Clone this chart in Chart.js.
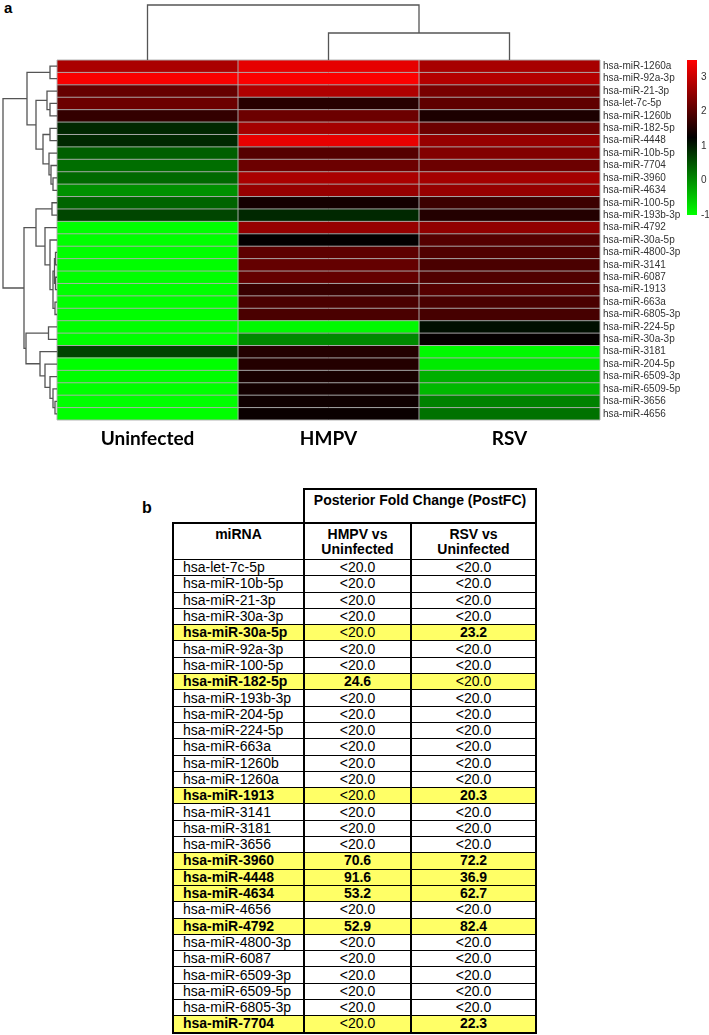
<!DOCTYPE html>
<html>
<head>
<meta charset="utf-8">
<script src="https://cdn.jsdelivr.net/npm/chart.js@4.4.1/dist/chart.umd.min.js"></script>
<style>
  body { margin: 0; background: #fff; width: 709px; height: 1035px; position: relative; overflow: hidden; }
  #heat { position: absolute; left: 0; top: 0; }
  #bar { position: absolute; left: 680px; top: 50px; }
  .panel { position: absolute; font-family: 'Liberation Sans', Arial, sans-serif; font-weight: bold; color: #000; }
  #fc { position: absolute; left: 172px; top: 488px; border-collapse: collapse; table-layout: fixed;
        font-family: 'Liberation Sans', Arial, sans-serif; font-size: 14px; color: #000; }
  #fc td { border: 1px solid #000; border-left-width: 2px; border-right-width: 2px; padding: 0;
           height: 15.3px; line-height: 15px; text-align: center; white-space: nowrap; }
  #fc td.name { text-align: left; padding-left: 9px; }
  #fc td.blank { border: none; }
  #fc td.pfc { border-width: 2px; height: 29px; vertical-align: top; font-weight: bold; padding-top: 3px; }
  #fc tr.hdr td { border-top-width: 2px; height: 32px; vertical-align: top; font-weight: bold; padding-top: 3px; text-align: center; }
  #fc tr.hi td { background: #ffff66; }
  #fc tr.hi td.name, #fc td.big { font-weight: bold; }
  #fc tr:last-child td { border-bottom-width: 2px; }
</style>
</head>
<body>
<div class="panel" style="left:4px;top:-1px;font-size:15px;">a</div>
<div class="panel" style="left:142px;top:499px;font-size:16px;">b</div>
<canvas id="heat" width="700" height="460"></canvas>
<canvas id="bar" width="29" height="175"></canvas>
<table id="fc">
  <colgroup><col style="width:131px"><col style="width:107px"><col style="width:125px"></colgroup>
  <tbody id="fcBody">
    <tr><td class="blank"></td><td class="pfc" colspan="2">Posterior Fold Change (PostFC)</td></tr>
    <tr class="hdr"><td>miRNA</td><td>HMPV vs<br>Uninfected</td><td>RSV vs<br>Uninfected</td></tr>
  </tbody>
</table>
<script>
// heatmap rows (top to bottom) and columns
const mirnas = ['hsa-miR-1260a', 'hsa-miR-92a-3p', 'hsa-miR-21-3p', 'hsa-let-7c-5p', 'hsa-miR-1260b',
  'hsa-miR-182-5p', 'hsa-miR-4448', 'hsa-miR-10b-5p', 'hsa-miR-7704', 'hsa-miR-3960', 'hsa-miR-4634',
  'hsa-miR-100-5p', 'hsa-miR-193b-3p', 'hsa-miR-4792', 'hsa-miR-30a-5p', 'hsa-miR-4800-3p', 'hsa-miR-3141',
  'hsa-miR-6087', 'hsa-miR-1913', 'hsa-miR-663a', 'hsa-miR-6805-3p', 'hsa-miR-224-5p', 'hsa-miR-30a-3p',
  'hsa-miR-3181', 'hsa-miR-204-5p', 'hsa-miR-6509-3p', 'hsa-miR-6509-5p', 'hsa-miR-3656', 'hsa-miR-4656'];
const groups = ['Uninfected', 'HMPV', 'RSV'];

// log expression
const uninfected = [2.75, 3.45, 2.15, 2.2, 1.7, 0.9, 0.9, 0.41, 0.28, 0.32, -0.03, 0.37, 0.63, -1, -1,
  -1, -1, -1, -1, -1, -1, -1, -1, 0.66, -1, -1, -1, -1, -1];
const hmpv = [3.28, 3.47, 2.79, 1.6, 2.2, 2.7, 3.3, 2.0, 2.2, 2.75, 2.57, 1.43, 0.9, 2.57, 1.28,
  2.07, 2.13, 2.13, 1.74, 1.9, 1.9, -0.95, 0.05, 1.56, 1.56, 1.47, 1.43, 1.38, 1.34];
const rsv = [2.72, 2.84, 2.31, 2.09, 1.5, 2.2, 2.57, 2.4, 2.2, 2.7, 2.57, 1.78, 1.56, 2.53, 2.0,
  1.96, 1.9, 1.96, 2.0, 1.9, 1.87, 1.12, 1.29, -0.95, -0.82, -0.29, -0.38, 0.1, 0.24];

// colour scale
const scaleMin = -1, scaleMax = 3.5;
const scaleTicks = [-1, 0, 1, 2, 3];

// dendrograms: [left, right, height], leaves are row/column indexes
const rowTree = [
  [[0, 1, 7], [[2, [3, 4, 7], 10], [[5, 6, 7], [7, [8, [9, 10, 4], 6], 8], 14], 21], 30],
  [[[11, 12, 5], [13, [14, [[[15, 16, 1.5], [17, 18, 1.5], 2.5], [19, 20, 2], 4], 7], 12], 21],
   [[21, 22, 8.5], [23, [24, [25, [26, [27, 28, 2], 4], 7], 12], 17], 31], 33],
  54];
const colTree = [0, [1, 2, 27], 55];

// table b
const tableMirna = ['hsa-let-7c-5p', 'hsa-miR-10b-5p', 'hsa-miR-21-3p', 'hsa-miR-30a-3p', 'hsa-miR-30a-5p',
  'hsa-miR-92a-3p', 'hsa-miR-100-5p', 'hsa-miR-182-5p', 'hsa-miR-193b-3p', 'hsa-miR-204-5p', 'hsa-miR-224-5p',
  'hsa-miR-663a', 'hsa-miR-1260b', 'hsa-miR-1260a', 'hsa-miR-1913', 'hsa-miR-3141', 'hsa-miR-3181',
  'hsa-miR-3656', 'hsa-miR-3960', 'hsa-miR-4448', 'hsa-miR-4634', 'hsa-miR-4656', 'hsa-miR-4792',
  'hsa-miR-4800-3p', 'hsa-miR-6087', 'hsa-miR-6509-3p', 'hsa-miR-6509-5p', 'hsa-miR-6805-3p', 'hsa-miR-7704'];
// null = "<20.0"
const hmpvFC = [null, null, null, null, null, null, null, 24.6, null, null, null, null, null, null, null,
  null, null, null, 70.6, 91.6, 53.2, null, 52.9, null, null, null, null, null, null];
const rsvFC = [null, null, null, null, 23.2, null, null, null, null, null, null, null, null, null, 20.3,
  null, null, null, 72.2, 36.9, 62.7, null, 82.4, null, null, null, null, null, 22.3];

function heatColor(v) {
  const mid = (scaleMin + scaleMax) / 2;
  const half = (scaleMax - scaleMin) / 2;
  v = Math.max(scaleMin, Math.min(scaleMax, v));
  if (v >= mid) return 'rgb(' + Math.round(255 * (v - mid) / half) + ',0,0)';
  return 'rgb(0,' + Math.round(255 * (mid - v) / half) + ',0)';
}

function drawTree(ctx, node, leafPos, base, k, rows) {
  if (typeof node === 'number') return { p: leafPos(node), h: 0 };
  const a = drawTree(ctx, node[0], leafPos, base, k, rows);
  const b = drawTree(ctx, node[1], leafPos, base, k, rows);
  const h = node[2];
  const at = hh => base - hh * k;
  ctx.beginPath();
  if (rows) {
    ctx.moveTo(at(a.h), a.p); ctx.lineTo(at(h), a.p); ctx.lineTo(at(h), b.p); ctx.lineTo(at(b.h), b.p);
  } else {
    ctx.moveTo(a.p, at(a.h)); ctx.lineTo(a.p, at(h)); ctx.lineTo(b.p, at(h)); ctx.lineTo(b.p, at(b.h));
  }
  ctx.stroke();
  return { p: (a.p + b.p) / 2, h: h };
}

const heatDecor = {
  id: 'heatDecor',
  afterDatasetsDraw(chart) {
    const ctx = chart.ctx, x = chart.scales.x, y = chart.scales.y, ca = chart.chartArea;
    const step = y.getPixelForValue(1) - y.getPixelForValue(0);
    ctx.save();
    ctx.strokeStyle = 'rgba(175,175,175,0.95)';
    ctx.lineWidth = 1;
    ctx.beginPath();
    for (let i = 0; i <= mirnas.length; i++) {
      const py = y.getPixelForValue(i) - step / 2;
      ctx.moveTo(ca.left, py); ctx.lineTo(ca.right, py);
    }
    for (let j = 0; j <= groups.length; j++) {
      const px = x.getPixelForValue(j);
      ctx.moveTo(px, ca.top); ctx.lineTo(px, ca.bottom);
    }
    ctx.stroke();
    ctx.restore();
  },
  afterDraw(chart) {
    const ctx = chart.ctx, x = chart.scales.x, y = chart.scales.y, ca = chart.chartArea;
    ctx.save();
    ctx.strokeStyle = '#555';
    ctx.lineWidth = 1.3;
    drawTree(ctx, rowTree, i => y.getPixelForValue(i), ca.left, (ca.left - 3) / rowTree[2], true);
    drawTree(ctx, colTree, j => x.getPixelForValue(j + 0.5), ca.top, (ca.top - 5) / colTree[2], false);
    ctx.restore();
  }
};

new Chart(document.getElementById('heat'), {
  type: 'bar',
  data: {
    labels: mirnas,
    datasets: [uninfected, hmpv, rsv].map((vals, j) => ({
      label: groups[j],
      data: vals.map(() => 1),
      backgroundColor: vals.map(heatColor),
      borderWidth: 0,
      barPercentage: 1,
      categoryPercentage: 1
    }))
  },
  options: {
    indexAxis: 'y',
    responsive: false,
    animation: false,
    layout: { padding: { left: 57, top: 60, right: 0, bottom: 0 } },
    scales: {
      x: {
        stacked: true, min: 0, max: groups.length,
        grid: { display: false, drawTicks: false }, border: { display: false },
        afterFit: s => { s.height = 40; },
        ticks: {
          stepSize: 0.5, autoSkip: false, maxRotation: 0, padding: 7, color: '#000',
          font: { family: "Lato, sans-serif", size: 19, weight: 'bold' },
          callback: v => (v % 1 === 0.5 ? groups[v - 0.5] : '')
        }
      },
      y: {
        stacked: true, position: 'right',
        grid: { display: false, drawTicks: false }, border: { display: false },
        afterFit: s => { s.width = 100; },
        ticks: {
          autoSkip: false, padding: 3, color: '#333',
          font: { family: "'Liberation Sans', Arial, sans-serif", size: 10 }
        }
      }
    },
    plugins: { legend: { display: false }, tooltip: { enabled: false } }
  },
  plugins: [heatDecor]
});

new Chart(document.getElementById('bar'), {
  type: 'bar',
  data: {
    labels: [''],
    datasets: [{
      data: [[scaleMin, scaleMax]],
      barPercentage: 1, categoryPercentage: 1, borderWidth: 0,
      backgroundColor: c => {
        const chart = c.chart, y = chart.scales.y;
        if (!chart.chartArea || !y) return '#000';
        const g = chart.ctx.createLinearGradient(0, y.getPixelForValue(scaleMin), 0, y.getPixelForValue(scaleMax));
        for (let s = 0; s <= 10; s++) {
          g.addColorStop(s / 10, heatColor(scaleMin + (scaleMax - scaleMin) * s / 10));
        }
        return g;
      }
    }]
  },
  options: {
    responsive: false,
    animation: false,
    layout: { padding: { left: 7, top: 10, bottom: 10, right: 0 } },
    scales: {
      x: { display: false },
      y: {
        position: 'right', min: scaleMin, max: scaleMax,
        grid: { display: false, drawTicks: false }, border: { display: false },
        afterBuildTicks: s => { s.ticks = scaleTicks.map(v => ({ value: v })); },
        afterFit: s => { s.width = 12; },
        ticks: { padding: 4, color: '#333', font: { family: "'Liberation Sans', Arial, sans-serif", size: 10 } }
      }
    },
    plugins: { legend: { display: false }, tooltip: { enabled: false } }
  }
});

// table rows
const body = document.getElementById('fcBody');
const fmt = v => (v === null ? '&lt;20.0' : v.toFixed(1));
tableMirna.forEach((name, i) => {
  const tr = document.createElement('tr');
  if (hmpvFC[i] !== null || rsvFC[i] !== null) tr.className = 'hi';
  tr.innerHTML = '<td class="name">' + name + '</td>' +
    '<td' + (hmpvFC[i] !== null ? ' class="big"' : '') + '>' + fmt(hmpvFC[i]) + '</td>' +
    '<td' + (rsvFC[i] !== null ? ' class="big"' : '') + '>' + fmt(rsvFC[i]) + '</td>';
  body.appendChild(tr);
});
</script>
</body>
</html>
